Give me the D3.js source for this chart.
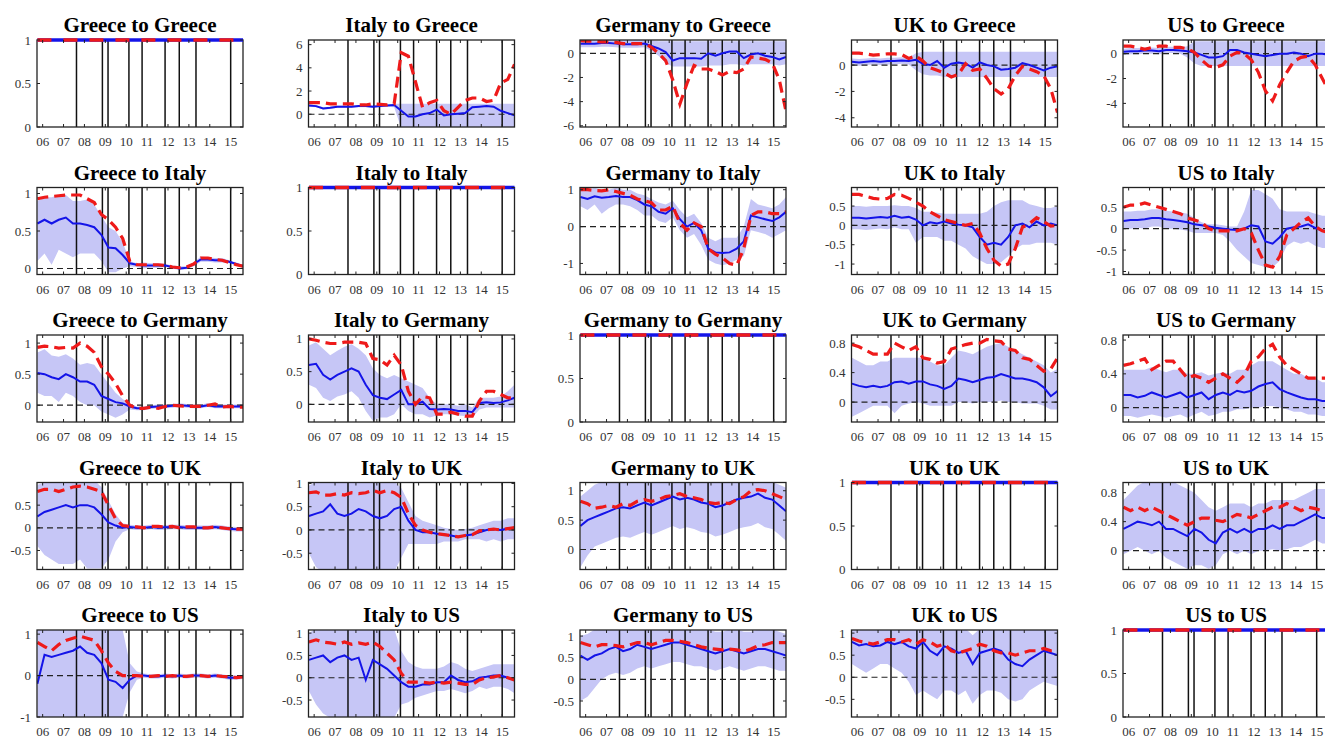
<!DOCTYPE html>
<html><head><meta charset="utf-8">
<script src="https://cdn.jsdelivr.net/npm/d3@7"></script>
<style>body{margin:0;background:#fff;} svg{display:block;}</style>
</head><body><svg id="chart" width="1325" height="740"></svg>
<script>
const countries = ["Greece","Italy","Germany","UK","US"];
const codes = ["GR","IT","DE","UK","US"];
const dates = [2005.75,2006.09,2006.43,2006.77,2007.11,2007.45,2007.79,2008.13,2008.47,2008.81,2009.15,2009.49,2009.83,2010.17,2010.51,2010.85,2011.19,2011.53,2011.87,2012.21,2012.55,2012.89,2013.23,2013.57,2013.91,2014.25,2014.59,2014.93,2015.27,2015.59];
const yearTicks = [2006,2007,2008,2009,2010,2011,2012,2013,2014,2015];
const yearLabels = ["06","07","08","09","10","11","12","13","14","15"];
const eventDates = [2007.62,2008.86,2009.13,2010.13,2010.76,2011.86,2012.54,2013.34,2015.0];
const ones = [1,1,1,1,1,1,1,1,1,1,1,1,1,1,1,1,1,1,1,1,1,1,1,1,1,1,1,1,1,1];

// ---- row 1: to Greece ----
const med_IT_GR = [0.75,0.7,0.5,0.55,0.65,0.65,0.65,0.7,0.7,0.65,0.7,0.75,0.8,0.3,-0.2,-0.2,0.0,0.1,0.4,-0.1,0.0,0.05,0.1,0.6,0.65,0.7,0.65,0.3,0.1,-0.1];
const hi_IT_GR = [0.85,0.8,0.6,0.65,0.75,0.75,0.75,0.8,0.8,0.75,0.8,0.85,0.9,0.9,0.9,0.9,0.9,0.9,0.9,0.9,0.9,0.9,0.9,0.9,0.9,0.9,0.9,0.9,0.9,0.9];
const lo_IT_GR = [0.65,0.6,0.4,0.45,0.55,0.55,0.55,0.6,0.6,0.55,0.6,0.65,0.6,-1.2,-1.2,-1.2,-1.2,-1.2,-1.2,-1.2,-1.2,-1.2,-1.2,-1.2,-1.2,-1.2,-1.2,-1.2,-1.2,-1.2];
const red_IT_GR = [1.0,1.0,1.0,0.9,0.9,0.9,0.9,0.8,0.8,0.9,0.85,0.8,0.9,5.3,5.0,2.8,0.6,1.0,1.2,0.3,0.0,0.6,1.2,1.4,1.4,1.1,1.2,2.7,3.0,4.3];

const med_DE_GR = [0.8,0.8,0.8,0.85,0.85,0.8,0.75,0.75,0.75,0.8,0.6,0.4,0.1,-0.6,-0.4,-0.4,-0.4,-0.45,0.0,-0.2,0.0,0.15,0.15,-0.4,-0.1,0.0,-0.2,-0.3,-0.5,-0.3];
const hi_DE_GR = [1.1,1.1,1.1,1.1,1.1,1.1,1.1,1.1,1.1,1.1,1.05,1.0,1.0,1.0,1.0,1.0,1.0,1.0,1.0,1.0,1.0,1.0,1.0,1.0,1.0,1.0,1.0,1.0,1.0,1.0];
const lo_DE_GR = [0.5,0.5,0.5,0.55,0.55,0.5,0.45,0.45,0.45,0.5,0.2,-0.2,-0.8,-1.1,-1.1,-1.1,-1.1,-1.1,-1.0,-1.0,-1.0,-0.9,-0.9,-1.0,-0.9,-0.9,-0.9,-0.9,-1.0,-0.9];
const red_DE_GR = [1.05,1.0,1.0,0.95,0.95,0.9,0.8,0.8,0.8,0.8,0.5,0.0,-0.6,-2.2,-4.2,-2.5,-1.0,-1.3,-1.3,-1.5,-1.8,-1.5,-1.6,-1.3,-0.3,-0.4,-0.5,-0.8,-2.2,-4.8];

const med_UK_GR = [0.25,0.2,0.25,0.3,0.25,0.3,0.3,0.35,0.3,0.4,0.1,0.0,0.3,-0.2,0.1,0.2,0.1,-0.2,0.2,0.0,-0.1,-0.35,-0.3,-0.2,0.15,0.0,-0.2,-0.4,-0.2,-0.1];
const hi_UK_GR = [0.5,0.45,0.5,0.55,0.5,0.55,0.55,0.6,0.55,0.9,1.0,1.0,1.0,1.0,1.0,1.0,1.0,1.0,1.0,1.0,1.0,1.0,1.0,1.0,1.0,1.0,1.0,1.0,1.0,1.0];
const lo_UK_GR = [0.0,-0.05,0.0,0.05,0.0,0.05,0.05,0.1,0.05,-0.4,-0.7,-0.8,-0.8,-0.9,-0.9,-0.9,-0.9,-0.9,-0.9,-0.9,-0.9,-0.9,-0.9,-0.9,-0.9,-0.9,-0.9,-0.9,-0.9,-0.9];
const red_UK_GR = [0.9,0.9,0.85,0.75,0.8,0.85,0.85,0.8,0.5,0.7,0.3,-0.2,-0.4,-0.6,-0.9,-0.7,0.1,-0.4,-0.3,-1.0,-1.8,-2.2,-1.8,-0.8,-0.1,-0.3,-0.5,-0.8,-1.8,-3.6];

const med_US_GR = [0.15,0.2,0.2,0.25,0.25,0.2,0.3,0.3,0.25,0.2,0.1,-0.1,-0.3,-0.3,-0.2,0.3,0.3,0.1,0.0,-0.1,-0.2,-0.1,0.0,0.0,0.1,0.0,-0.2,0.0,0.0,-0.1];
const hi_US_GR = [0.4,0.45,0.45,0.5,0.5,0.45,0.55,0.55,0.5,0.6,1.0,1.0,1.0,1.0,1.0,1.0,1.0,1.0,1.0,1.0,1.0,1.0,1.0,1.0,1.0,1.0,1.0,1.0,1.0,1.0];
const lo_US_GR = [-0.1,-0.05,-0.05,0.0,0.0,-0.05,0.05,0.05,0.0,-0.3,-0.8,-1.0,-1.0,-1.0,-1.0,-1.0,-1.0,-1.0,-1.0,-1.0,-1.0,-1.0,-1.0,-1.0,-1.0,-1.0,-1.0,-1.0,-1.0,-1.0];
const red_US_GR = [0.6,0.6,0.5,0.35,0.5,0.6,0.6,0.5,0.5,0.4,0.1,-0.5,-1.0,-1.1,-0.9,-0.2,0.1,0.0,-0.5,-1.5,-3.0,-3.8,-2.5,-1.5,-0.6,-0.3,-0.2,-0.9,-2.0,-3.0];

// ---- row 2: to Italy ----
const med_GR_IT = [0.6,0.65,0.6,0.65,0.68,0.6,0.6,0.58,0.55,0.45,0.28,0.27,0.18,0.07,0.05,0.04,0.04,0.04,0.04,0.02,0.0,0.01,0.06,0.12,0.12,0.11,0.11,0.09,0.06,0.03];
const hi_GR_IT = [0.9,0.95,0.95,0.98,0.98,0.9,0.9,0.92,0.85,0.7,0.55,0.5,0.35,0.1,0.07,0.08,0.07,0.07,0.06,0.04,0.03,0.03,0.08,0.16,0.15,0.14,0.14,0.11,0.08,0.05];
const lo_GR_IT = [0.1,0.2,0.05,0.25,0.2,0.15,0.2,0.2,0.2,0.1,-0.05,-0.05,0.0,0.03,0.02,0.0,0.01,0.01,0.02,0.0,-0.02,-0.01,0.03,0.09,0.09,0.08,0.08,0.07,0.04,0.01];
const red_GR_IT = [0.93,0.95,0.96,0.97,0.98,0.98,0.98,0.93,0.88,0.72,0.65,0.55,0.4,0.1,0.05,0.05,0.05,0.05,0.04,0.02,0.01,0.02,0.06,0.14,0.14,0.12,0.11,0.08,0.05,0.03];

const med_DE_IT = [0.8,0.75,0.82,0.78,0.8,0.83,0.8,0.8,0.72,0.6,0.55,0.4,0.35,0.5,0.2,0.0,0.1,-0.1,-0.6,-0.7,-0.72,-0.7,-0.6,-0.4,0.3,0.25,0.2,0.15,0.25,0.4];
const hi_DE_IT = [1.05,1.0,1.05,1.0,1.0,1.05,1.0,1.0,0.9,0.85,0.75,0.65,0.6,0.7,0.45,0.25,0.35,0.1,-0.3,-0.4,-0.3,-0.3,-0.3,0.0,0.75,0.6,0.55,0.5,0.6,0.8];
const lo_DE_IT = [0.55,0.45,0.6,0.35,0.5,0.6,0.6,0.55,0.45,0.3,0.3,0.15,0.1,0.25,-0.1,-0.3,-0.2,-0.5,-0.9,-1.0,-1.05,-1.0,-0.9,-0.8,-0.1,-0.15,-0.2,-0.3,-0.2,-0.1];
const red_DE_IT = [1.0,1.0,0.98,0.97,1.0,0.95,0.9,0.85,0.75,0.7,0.65,0.45,0.45,0.55,0.1,-0.1,0.1,0.0,-0.6,-0.75,-0.85,-1.0,-1.05,-0.6,0.3,0.4,0.4,0.35,0.35,0.4];

const med_UK_IT = [0.2,0.2,0.18,0.2,0.22,0.2,0.25,0.2,0.22,0.15,0.0,0.08,0.05,0.1,0.05,0.02,0.0,-0.05,-0.3,-0.5,-0.45,-0.5,-0.3,0.0,0.05,-0.05,0.1,0.0,0.05,0.0];
const hi_UK_IT = [0.5,0.5,0.48,0.5,0.5,0.5,0.52,0.5,0.5,0.45,0.35,0.35,0.33,0.3,0.3,0.3,0.3,0.3,0.3,0.35,0.5,0.6,0.65,0.65,0.65,0.55,0.5,0.45,0.45,0.5];
const lo_UK_IT = [-0.1,-0.1,-0.12,-0.1,-0.08,-0.1,-0.05,-0.1,-0.1,-0.45,-0.3,-0.3,-0.3,-0.4,-0.4,-0.5,-0.6,-0.8,-0.9,-1.0,-1.0,-0.95,-0.8,-0.6,-0.5,-0.5,-0.45,-0.45,-0.45,-0.5];
const red_UK_IT = [0.8,0.8,0.75,0.7,0.68,0.7,0.8,0.78,0.7,0.6,0.5,0.35,0.25,0.15,0.1,0.05,0.0,0.05,-0.2,-0.6,-0.9,-1.05,-1.0,-0.6,-0.05,0.05,0.2,0.1,-0.02,0.0];

const med_US_IT = [0.18,0.2,0.2,0.22,0.25,0.25,0.22,0.2,0.18,0.15,0.1,0.08,0.05,0.02,0.0,-0.02,-0.03,0.0,0.08,0.05,-0.3,-0.35,-0.2,0.0,0.03,0.05,0.1,0.02,-0.05,-0.05];
const hi_US_IT = [0.4,0.4,0.42,0.42,0.45,0.45,0.42,0.4,0.38,0.35,0.25,0.15,0.1,0.1,0.08,0.05,0.05,0.4,0.9,0.9,0.8,0.7,0.45,0.4,0.4,0.4,0.4,0.35,0.3,0.3];
const lo_US_IT = [0.0,0.0,0.02,0.0,0.05,0.05,0.0,0.0,-0.02,-0.05,-0.1,-0.1,-0.1,-0.1,-0.15,-0.3,-0.5,-0.65,-0.8,-0.85,-0.9,-0.9,-0.75,-0.4,-0.3,-0.35,-0.3,-0.4,-0.45,-0.45];
const red_US_IT = [0.5,0.55,0.55,0.6,0.55,0.5,0.45,0.4,0.35,0.25,0.2,0.15,0.0,-0.05,-0.05,-0.05,-0.05,0.0,-0.1,-0.5,-0.85,-0.9,-0.65,-0.15,0.0,0.15,0.25,0.05,-0.05,-0.1];

// ---- row 3: to Germany ----
const med_GR_DE = [0.52,0.5,0.45,0.42,0.5,0.45,0.38,0.38,0.33,0.15,0.1,0.05,0.03,-0.02,-0.05,-0.05,-0.03,-0.02,-0.02,-0.01,0.0,-0.01,-0.02,-0.02,0.0,-0.02,-0.02,-0.02,-0.02,-0.02];
const hi_GR_DE = [0.85,0.9,0.8,0.78,0.82,0.75,0.65,0.68,0.65,0.5,0.35,0.2,0.1,0.02,-0.02,-0.02,0.0,0.01,0.01,0.02,0.03,0.02,0.01,0.01,0.03,0.01,0.01,0.01,0.01,0.01];
const lo_GR_DE = [0.2,0.15,0.15,0.05,0.2,0.15,0.05,0.0,0.0,-0.1,-0.15,-0.2,-0.15,-0.07,-0.08,-0.08,-0.06,-0.05,-0.05,-0.04,-0.03,-0.04,-0.05,-0.05,-0.03,-0.05,-0.05,-0.05,-0.05,-0.05];
const red_GR_DE = [0.93,0.95,0.94,0.92,0.93,0.92,1.0,0.95,0.85,0.62,0.5,0.35,0.15,0.0,-0.05,-0.05,-0.03,-0.05,-0.02,0.0,-0.01,-0.02,-0.02,-0.02,0.0,0.02,-0.03,-0.02,-0.03,-0.03];

const med_IT_DE = [0.6,0.62,0.45,0.38,0.45,0.5,0.55,0.5,0.3,0.14,0.1,0.08,0.15,0.22,0.0,0.0,0.04,-0.07,-0.08,-0.07,-0.08,-0.1,-0.1,-0.12,0.02,0.03,0.02,0.03,0.06,0.1];
const hi_IT_DE = [0.9,0.95,0.85,0.75,0.82,0.88,0.92,0.85,0.75,0.55,0.45,0.4,0.45,0.4,0.35,0.3,0.25,0.1,0.0,0.0,0.0,-0.02,0.0,-0.05,0.1,0.1,0.1,0.12,0.2,0.3];
const lo_IT_DE = [0.3,0.25,0.1,0.05,0.12,0.15,0.2,0.1,-0.1,-0.25,-0.2,-0.2,-0.15,0.0,-0.1,-0.15,-0.15,-0.2,-0.17,-0.15,-0.15,-0.17,-0.18,-0.2,-0.08,-0.05,-0.05,-0.05,-0.05,-0.05];
const red_IT_DE = [1.0,0.98,0.95,0.93,0.93,0.95,0.95,0.95,0.93,0.7,0.68,0.6,0.75,0.6,0.2,0.0,0.12,0.1,-0.15,-0.15,-0.12,-0.15,-0.18,-0.18,0.05,0.2,0.2,0.15,0.1,0.1];

const med_UK_DE = [0.25,0.22,0.2,0.22,0.2,0.22,0.27,0.28,0.25,0.28,0.28,0.24,0.22,0.18,0.22,0.32,0.3,0.27,0.3,0.33,0.34,0.38,0.35,0.32,0.32,0.3,0.27,0.2,0.08,0.15];
const hi_UK_DE = [0.6,0.55,0.5,0.5,0.55,0.55,0.6,0.6,0.6,0.6,0.6,0.55,0.5,0.5,0.6,0.7,0.68,0.65,0.7,0.75,0.78,0.8,0.75,0.7,0.65,0.6,0.55,0.5,0.4,0.45];
const lo_UK_DE = [-0.2,-0.15,-0.1,-0.05,-0.05,-0.05,-0.15,-0.05,-0.02,0.0,-0.02,-0.05,-0.05,-0.05,-0.05,0.0,0.0,-0.02,0.0,0.0,0.0,0.02,0.0,0.0,-0.02,-0.02,-0.02,-0.05,-0.1,-0.1];
const red_UK_DE = [0.78,0.75,0.7,0.65,0.65,0.65,0.8,0.75,0.7,0.75,0.6,0.58,0.53,0.55,0.72,0.75,0.78,0.8,0.8,0.85,0.83,0.82,0.72,0.7,0.6,0.58,0.5,0.42,0.45,0.6];

const med_US_DE = [0.15,0.15,0.12,0.14,0.18,0.15,0.12,0.15,0.18,0.12,0.15,0.18,0.1,0.15,0.18,0.15,0.2,0.18,0.2,0.25,0.28,0.3,0.22,0.18,0.15,0.12,0.1,0.1,0.08,0.08];
const hi_US_DE = [0.45,0.45,0.45,0.45,0.48,0.45,0.42,0.45,0.45,0.4,0.4,0.42,0.38,0.4,0.42,0.4,0.45,0.45,0.5,0.55,0.55,0.55,0.5,0.45,0.4,0.4,0.35,0.35,0.3,0.3];
const lo_US_DE = [-0.1,-0.1,-0.12,-0.1,-0.08,-0.1,-0.12,-0.1,-0.08,-0.12,-0.08,-0.05,-0.1,-0.08,-0.05,-0.05,-0.02,-0.02,0.0,0.0,0.02,0.02,0.0,-0.02,-0.05,-0.05,-0.08,-0.08,-0.1,-0.1];
const red_US_DE = [0.5,0.52,0.55,0.58,0.45,0.5,0.55,0.55,0.45,0.35,0.38,0.35,0.3,0.35,0.4,0.35,0.3,0.38,0.55,0.6,0.7,0.75,0.6,0.5,0.45,0.4,0.35,0.35,0.35,0.35];

// ---- row 4: to UK ----
const med_GR_UK = [0.25,0.35,0.4,0.45,0.5,0.45,0.5,0.5,0.45,0.3,0.12,0.05,0.0,0.02,0.0,0.0,0.02,0.0,0.01,0.02,0.02,0.0,0.0,0.0,0.0,0.02,0.0,-0.02,-0.03,-0.03];
const hi_GR_UK = [0.95,1.0,1.05,1.05,1.05,1.05,1.05,1.05,1.05,0.9,0.6,0.3,0.1,0.07,0.05,0.05,0.07,0.05,0.06,0.07,0.07,0.05,0.05,0.05,0.05,0.07,0.05,0.03,0.02,0.02];
const lo_GR_UK = [-0.4,-0.6,-0.7,-0.8,-0.8,-0.8,-0.7,-0.9,-0.9,-0.9,-0.7,-0.3,-0.1,-0.03,-0.05,-0.05,-0.03,-0.05,-0.04,-0.03,-0.03,-0.05,-0.05,-0.05,-0.05,-0.03,-0.05,-0.07,-0.08,-0.08];
const red_GR_UK = [0.8,0.85,0.85,0.8,0.85,0.9,0.92,0.9,0.85,0.8,0.5,0.2,0.05,0.03,0.02,0.0,0.03,0.03,0.02,0.03,0.0,0.02,0.02,0.0,0.0,0.02,0.0,-0.02,-0.03,-0.03];

const med_IT_UK = [0.3,0.35,0.4,0.55,0.35,0.3,0.35,0.45,0.4,0.3,0.25,0.3,0.45,0.5,0.2,0.0,-0.05,-0.05,-0.08,-0.1,-0.12,-0.15,-0.12,-0.1,-0.05,0.0,0.02,0.0,0.03,0.05];
const hi_IT_UK = [0.95,1.05,1.05,1.05,1.05,1.05,1.05,1.05,1.05,1.05,1.05,1.05,1.05,0.9,0.6,0.3,0.2,0.15,0.1,0.05,0.02,0.0,0.02,0.05,0.1,0.15,0.2,0.2,0.25,0.25];
const lo_IT_UK = [-0.5,-0.8,-0.9,-0.9,-0.9,-0.9,-0.9,-0.9,-0.9,-0.9,-0.9,-0.9,-0.9,-0.6,-0.3,-0.3,-0.3,-0.3,-0.3,-0.25,-0.25,-0.25,-0.2,-0.2,-0.2,-0.25,-0.2,-0.25,-0.2,-0.2];
const red_IT_UK = [0.8,0.82,0.75,0.75,0.78,0.75,0.8,0.78,0.8,0.85,0.8,0.85,0.8,0.7,0.35,0.1,0.0,-0.05,-0.08,-0.1,-0.12,-0.15,-0.12,-0.1,-0.02,0.0,0.02,0.0,0.03,0.05];

const med_DE_UK = [0.4,0.5,0.55,0.6,0.65,0.7,0.72,0.7,0.75,0.8,0.75,0.8,0.85,0.9,0.85,0.88,0.85,0.8,0.78,0.72,0.75,0.8,0.85,0.88,0.9,0.95,0.88,0.85,0.75,0.65];
const hi_DE_UK = [0.9,1.0,1.1,1.15,1.15,1.15,1.15,1.15,1.15,1.15,1.15,1.15,1.15,1.15,1.15,1.15,1.15,1.15,1.15,1.15,1.15,1.15,1.15,1.15,1.15,1.15,1.15,1.15,1.1,1.05];
const lo_DE_UK = [-0.3,-0.1,0.05,0.1,0.15,0.2,0.22,0.2,0.25,0.3,0.25,0.3,0.35,0.4,0.35,0.38,0.35,0.3,0.28,0.22,0.25,0.3,0.35,0.38,0.4,0.45,0.38,0.35,0.25,0.15];
const red_DE_UK = [0.82,0.78,0.7,0.72,0.75,0.72,0.78,0.75,0.82,0.85,0.82,0.85,0.9,0.92,0.95,0.9,0.88,0.85,0.8,0.78,0.8,0.78,0.85,0.9,1.0,1.02,1.0,0.95,0.9,0.85];

const med_US_UK = [0.3,0.35,0.4,0.38,0.35,0.4,0.3,0.3,0.25,0.2,0.3,0.25,0.15,0.1,0.25,0.3,0.25,0.3,0.25,0.3,0.3,0.35,0.3,0.35,0.35,0.4,0.45,0.5,0.45,0.45];
const hi_US_UK = [0.7,0.8,0.9,0.95,0.95,0.95,0.95,0.95,0.9,0.85,0.8,0.7,0.6,0.55,0.6,0.65,0.65,0.65,0.6,0.65,0.65,0.7,0.7,0.7,0.7,0.75,0.8,0.85,0.85,0.85];
const lo_US_UK = [-0.05,0.0,0.05,0.0,-0.05,0.0,-0.1,-0.15,-0.2,-0.25,-0.2,-0.2,-0.25,-0.2,-0.05,0.0,-0.05,0.0,-0.05,0.0,0.0,0.02,0.0,0.02,0.05,0.05,0.1,0.15,0.1,0.1];
const red_US_UK = [0.6,0.55,0.6,0.55,0.6,0.55,0.5,0.45,0.4,0.35,0.4,0.45,0.45,0.42,0.4,0.45,0.5,0.48,0.45,0.5,0.55,0.6,0.6,0.65,0.6,0.55,0.6,0.58,0.55,0.55];

// ---- row 5: to US ----
const med_GR_US = [-0.2,0.5,0.45,0.5,0.55,0.6,0.7,0.55,0.5,0.3,-0.1,-0.15,-0.3,-0.1,0.0,0.0,-0.02,-0.02,0.0,-0.02,0.0,-0.02,0.0,0.0,-0.02,0.0,-0.02,-0.05,-0.05,-0.03];
const hi_GR_US = [1.1,1.1,1.1,1.1,1.1,1.1,1.1,1.1,1.1,1.1,1.1,1.1,1.1,0.3,0.1,0.05,0.03,0.03,0.05,0.03,0.05,0.03,0.05,0.05,0.03,0.05,0.03,0.0,0.0,0.02];
const lo_GR_US = [-1.0,-1.0,-1.0,-1.0,-1.0,-1.0,-1.0,-1.0,-1.0,-1.0,-1.0,-1.0,-1.0,-0.4,-0.1,-0.05,-0.07,-0.07,-0.05,-0.07,-0.05,-0.07,-0.05,-0.05,-0.07,-0.05,-0.07,-0.1,-0.1,-0.08];
const red_GR_US = [0.8,0.7,0.6,0.75,0.85,0.9,0.95,0.9,0.85,0.6,0.3,0.1,0.0,0.0,0.0,-0.02,-0.02,0.0,-0.02,0.0,-0.02,-0.02,0.0,0.0,-0.02,0.0,-0.02,-0.03,-0.05,-0.03];

const med_IT_US = [0.4,0.45,0.5,0.35,0.45,0.5,0.4,0.45,-0.05,0.4,0.3,0.2,0.05,-0.1,-0.2,-0.2,-0.15,-0.15,-0.1,-0.1,0.05,-0.05,-0.1,-0.08,0.0,0.02,0.05,0.05,0.0,-0.05];
const hi_IT_US = [1.0,1.1,1.1,1.1,1.1,1.1,1.1,1.1,1.1,1.1,1.1,1.1,1.1,0.6,0.35,0.25,0.2,0.2,0.2,0.25,0.35,0.3,0.2,0.15,0.2,0.25,0.3,0.3,0.3,0.3];
const lo_IT_US = [-0.3,-0.6,-0.8,-0.9,-0.9,-0.9,-0.9,-0.9,-0.9,-0.9,-0.9,-0.9,-0.9,-0.6,-0.55,-0.45,-0.4,-0.35,-0.3,-0.3,-0.25,-0.3,-0.35,-0.3,-0.2,-0.25,-0.2,-0.2,-0.25,-0.35];
const red_IT_US = [0.8,0.85,0.8,0.78,0.75,0.8,0.75,0.78,0.75,0.8,0.7,0.55,0.4,0.1,-0.1,-0.1,-0.1,-0.12,-0.1,-0.12,-0.1,-0.12,-0.15,-0.15,-0.05,0.0,0.02,0.05,0.0,-0.05];

const med_DE_US = [0.55,0.45,0.55,0.6,0.7,0.75,0.65,0.7,0.8,0.75,0.7,0.75,0.8,0.85,0.85,0.8,0.75,0.7,0.65,0.6,0.65,0.7,0.65,0.6,0.65,0.7,0.7,0.65,0.6,0.55];
const hi_DE_US = [1.0,1.05,1.15,1.15,1.15,1.15,1.15,1.15,1.15,1.15,1.15,1.15,1.15,1.15,1.15,1.15,1.15,1.15,1.15,1.1,1.1,1.15,1.15,1.1,1.1,1.15,1.15,1.15,1.1,1.05];
const lo_DE_US = [-0.5,-0.4,-0.2,0.0,0.1,0.15,0.1,0.15,0.25,0.3,0.25,0.3,0.35,0.4,0.4,0.35,0.3,0.3,0.25,0.2,0.25,0.3,0.25,0.2,0.25,0.3,0.3,0.25,0.2,0.2];
const red_DE_US = [0.85,0.8,0.75,0.8,0.8,0.78,0.75,0.8,0.85,0.85,0.8,0.85,0.9,0.9,0.88,0.85,0.8,0.75,0.72,0.7,0.68,0.7,0.68,0.65,0.7,0.78,0.8,0.85,0.85,0.85];

const med_UK_US = [0.8,0.72,0.75,0.7,0.72,0.8,0.75,0.8,0.7,0.65,0.8,0.6,0.5,0.7,0.65,0.55,0.6,0.3,0.55,0.6,0.65,0.6,0.4,0.3,0.25,0.4,0.5,0.6,0.55,0.5];
const hi_UK_US = [1.1,1.1,1.1,1.1,1.1,1.1,1.1,1.1,1.1,1.1,1.1,1.1,1.1,1.1,1.1,1.1,1.1,0.95,1.1,1.1,1.1,1.1,1.1,1.1,1.1,1.1,1.1,1.1,1.1,1.1];
const lo_UK_US = [0.3,0.2,0.1,0.2,0.3,0.3,0.2,0.1,-0.1,-0.4,-0.3,-0.4,-0.5,-0.3,-0.3,-0.4,-0.3,-0.6,-0.4,-0.3,-0.3,-0.35,-0.5,-0.55,-0.5,-0.3,-0.2,-0.1,-0.15,-0.2];
const red_UK_US = [0.88,0.82,0.78,0.75,0.8,0.85,0.85,0.8,0.85,0.75,0.85,0.8,0.7,0.75,0.6,0.55,0.6,0.65,0.75,0.7,0.6,0.55,0.55,0.5,0.55,0.6,0.6,0.65,0.6,0.6];

// y-axis limits and tick values for each panel (row = destination, col = source)
const yDomains = [
  [[0,1],[-1.1,6.4],[-6.1,1.1],[-4.7,1.9],[-5.9,1.1]],
  [[-0.08,1.08],[0,1],[-1.3,1.06],[-1.27,0.98],[-1.07,0.96]],
  [[-0.27,1.13],[-0.27,1.06],[0,1],[-0.27,0.91],[-0.17,0.86]],
  [[-0.92,1.0],[-0.85,1.02],[-0.34,1.14],[0,1],[-0.26,0.94]],
  [[-1.0,1.1],[-0.88,1.07],[-0.87,1.14],[-0.9,1.07],[0,1]]
];
const yTickVals = [
  [[0,0.5,1],[0,2,4,6],[-6,-4,-2,0],[-4,-2,0],[-4,-2,0]],
  [[0,0.5,1],[0,0.5,1],[-1,0,1],[-1,-0.5,0,0.5],[-1,-0.5,0,0.5]],
  [[0,0.5,1],[0,0.5,1],[0,0.5,1],[0,0.4,0.8],[0,0.4,0.8]],
  [[-0.5,0,0.5],[-0.5,0,0.5,1],[0,0.5,1],[0,0.5,1],[0,0.4,0.8]],
  [[-1,0,1],[-0.5,0,0.5,1],[-0.5,0,0.5,1],[-0.5,0,0.5,1],[0,0.5,1]]
];

const seriesTable = {
  GR_GR:{med:ones,lo:ones,hi:ones,red:ones}, IT_GR:{med:med_IT_GR,lo:lo_IT_GR,hi:hi_IT_GR,red:red_IT_GR},
  DE_GR:{med:med_DE_GR,lo:lo_DE_GR,hi:hi_DE_GR,red:red_DE_GR}, UK_GR:{med:med_UK_GR,lo:lo_UK_GR,hi:hi_UK_GR,red:red_UK_GR},
  US_GR:{med:med_US_GR,lo:lo_US_GR,hi:hi_US_GR,red:red_US_GR},
  GR_IT:{med:med_GR_IT,lo:lo_GR_IT,hi:hi_GR_IT,red:red_GR_IT}, IT_IT:{med:ones,lo:ones,hi:ones,red:ones},
  DE_IT:{med:med_DE_IT,lo:lo_DE_IT,hi:hi_DE_IT,red:red_DE_IT}, UK_IT:{med:med_UK_IT,lo:lo_UK_IT,hi:hi_UK_IT,red:red_UK_IT},
  US_IT:{med:med_US_IT,lo:lo_US_IT,hi:hi_US_IT,red:red_US_IT},
  GR_DE:{med:med_GR_DE,lo:lo_GR_DE,hi:hi_GR_DE,red:red_GR_DE}, IT_DE:{med:med_IT_DE,lo:lo_IT_DE,hi:hi_IT_DE,red:red_IT_DE},
  DE_DE:{med:ones,lo:ones,hi:ones,red:ones}, UK_DE:{med:med_UK_DE,lo:lo_UK_DE,hi:hi_UK_DE,red:red_UK_DE},
  US_DE:{med:med_US_DE,lo:lo_US_DE,hi:hi_US_DE,red:red_US_DE},
  GR_UK:{med:med_GR_UK,lo:lo_GR_UK,hi:hi_GR_UK,red:red_GR_UK}, IT_UK:{med:med_IT_UK,lo:lo_IT_UK,hi:hi_IT_UK,red:red_IT_UK},
  DE_UK:{med:med_DE_UK,lo:lo_DE_UK,hi:hi_DE_UK,red:red_DE_UK}, UK_UK:{med:ones,lo:ones,hi:ones,red:ones},
  US_UK:{med:med_US_UK,lo:lo_US_UK,hi:hi_US_UK,red:red_US_UK},
  GR_US:{med:med_GR_US,lo:lo_GR_US,hi:hi_GR_US,red:red_GR_US}, IT_US:{med:med_IT_US,lo:lo_IT_US,hi:hi_IT_US,red:red_IT_US},
  DE_US:{med:med_DE_US,lo:lo_DE_US,hi:hi_DE_US,red:red_DE_US}, UK_US:{med:med_UK_US,lo:lo_UK_US,hi:hi_UK_US,red:red_UK_US},
  US_US:{med:ones,lo:ones,hi:ones,red:ones}
};

// ---- layout ----
const svg = d3.select("#chart");
const PW = 206, PH = 87;
const colX = d3.scaleLinear().domain([0,4]).range([37,1123]);
const rowY = d3.scaleLinear().domain([0,4]).range([40,630]);
const serif = "'Liberation Serif','Times New Roman',serif";
const x = d3.scaleLinear().domain([2005.73, 2015.59]).range([0, PW]);

for (let r = 0; r < 5; r++) {
  for (let c = 0; c < 5; c++) {
    const key = codes[c] + "_" + codes[r];
    const s = seriesTable[key];
    const diag = r === c;
    const g = svg.append("g").attr("transform", `translate(${colX(c)},${rowY(r)})`);
    const y = d3.scaleLinear().domain(yDomains[r][c]).range([PH, 0]);
    const clipId = "clip" + r + c;
    g.append("clipPath").attr("id", clipId).append("rect").attr("width", PW).attr("height", PH);
    const plot = g.append("g").attr("clip-path", `url(#${clipId})`);
    const rows = dates.map((d, i) => ({d, med: s.med[i], lo: s.lo[i], hi: s.hi[i], red: s.red[i]}));

    if (!diag) {
      plot.append("path").datum(rows)
        .attr("d", d3.area().x(p => x(p.d)).y0(p => y(p.lo)).y1(p => y(p.hi)))
        .attr("fill", "#c6c6f6").attr("stroke", "none");
    }
    // event lines
    plot.selectAll("line.ev").data(eventDates).join("line")
      .attr("x1", d => x(d)).attr("x2", d => x(d)).attr("y1", 0).attr("y2", PH)
      .attr("stroke", "#111").attr("stroke-width", 1.5);
    if (!diag) {
      plot.append("line").attr("x1", 0).attr("x2", PW).attr("y1", y(0)).attr("y2", y(0))
        .attr("stroke", "#222").attr("stroke-width", 1.2).attr("stroke-dasharray", "6,4");
    }
    // box
    g.append("rect").attr("width", PW).attr("height", PH).attr("fill", "none")
      .attr("stroke", "#222").attr("stroke-width", 1.3);

    const lineLayer = diag ? g : plot;
    lineLayer.append("path").datum(rows)
      .attr("d", d3.line().x(p => x(p.d)).y(p => y(p.med)))
      .attr("fill", "none").attr("stroke", "#1414e8").attr("stroke-width", diag ? 3.5 : 2);
    lineLayer.append("path").datum(rows)
      .attr("d", d3.line().x(p => x(p.d)).y(p => y(p.red)))
      .attr("fill", "none").attr("stroke", "#ee1a1a").attr("stroke-width", diag ? 3.5 : 3.2)
      .attr("stroke-dasharray", diag ? "14,12" : "11,6");

    // inward ticks
    const xt = g.append("g").attr("stroke", "#222").attr("stroke-width", 1);
    yearTicks.forEach(t => {
      xt.append("line").attr("x1", x(t)).attr("x2", x(t)).attr("y1", PH).attr("y2", PH - 3);
      xt.append("line").attr("x1", x(t)).attr("x2", x(t)).attr("y1", 0).attr("y2", 3);
    });
    yTickVals[r][c].forEach(t => {
      xt.append("line").attr("x1", 0).attr("x2", 3).attr("y1", y(t)).attr("y2", y(t));
      xt.append("line").attr("x1", PW).attr("x2", PW - 3).attr("y1", y(t)).attr("y2", y(t));
    });
    // x labels
    g.selectAll("text.xl").data(yearTicks).join("text")
      .attr("x", d => x(d)).attr("y", PH + 19)
      .attr("text-anchor", "middle").attr("font-family", serif).attr("font-size", 13)
      .attr("fill", "#333").text((d, i) => yearLabels[i]);
    // y labels
    g.selectAll("text.yl").data(yTickVals[r][c]).join("text")
      .attr("x", -6).attr("y", d => y(d)).attr("dy", "0.35em")
      .attr("text-anchor", "end").attr("font-family", serif).attr("font-size", 13)
      .attr("fill", "#333").text(d => String(d));
    // title
    g.append("text").attr("x", PW / 2).attr("y", -8)
      .attr("text-anchor", "middle").attr("font-family", serif).attr("font-weight", "bold")
      .attr("font-size", 21).attr("fill", "#000")
      .text(`${countries[c]} to ${countries[r]}`);
  }
}
</script>
</body></html>
